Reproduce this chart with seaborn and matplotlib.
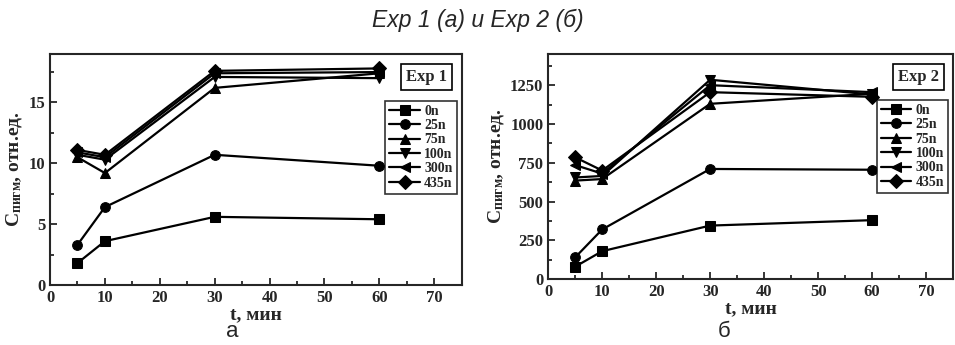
import numpy as np
import pandas as pd
import matplotlib
matplotlib.use("Agg")
import matplotlib.pyplot as plt
from matplotlib.ticker import MultipleLocator
import seaborn as sns

sns.set_style("ticks")
plt.rcParams['font.family'] = ['Liberation Serif', 'DejaVu Serif']
plt.rcParams['mathtext.fontset'] = 'custom'
plt.rcParams['mathtext.rm'] = 'Liberation Serif'
plt.rcParams['mathtext.bf'] = 'Liberation Serif:bold'

# time points, min
t = [5, 10, 30, 60]
series = ["0n", "25n", "75n", "100n", "300n", "435n"]
markers = ["s", "o", "^", "v", "<", "D"]

# Exp 1
exp1_0n = [1.8, 3.6, 5.6, 5.4]
exp1_25n = [3.3, 6.4, 10.7, 9.8]
exp1_75n = [10.5, 9.2, 16.2, 17.4]
exp1_100n = [10.7, 10.3, 17.1, 17.0]
exp1_300n = [10.9, 10.5, 17.4, 17.5]
exp1_435n = [11.1, 10.7, 17.6, 17.8]

# Exp 2
exp2_0n = [80, 180, 345, 380]
exp2_25n = [140, 320, 710, 705]
exp2_75n = [635, 645, 1130, 1195]
exp2_100n = [655, 665, 1285, 1190]
exp2_300n = [735, 680, 1250, 1205]
exp2_435n = [785, 700, 1205, 1175]

exp1 = [exp1_0n, exp1_25n, exp1_75n, exp1_100n, exp1_300n, exp1_435n]
exp2 = [exp2_0n, exp2_25n, exp2_75n, exp2_100n, exp2_300n, exp2_435n]


def make_df(vals):
    rows = []
    for name, v in zip(series, vals):
        for ti, yi in zip(t, v):
            rows.append({"t": ti, "c": yi, "s": name})
    return pd.DataFrame(rows)


fig = plt.figure(figsize=(9.55, 3.45), dpi=100)
ax1 = fig.add_axes([0.0524, 0.174, 0.431, 0.670])
ax2 = fig.add_axes([0.574, 0.191, 0.424, 0.652])

bold = {"fontweight": "bold", "fontsize": 14}

for ax, vals, ylim, ymaj, tag in [(ax1, exp1, (0, 19), 5, "Exp 1"),
                                    (ax2, exp2, (0, 1450), 250, "Exp 2")]:
    df = make_df(vals)
    sns.lineplot(data=df, x="t", y="c", hue="s", style="s",
                 palette=["black"] * 6, markers=markers, dashes=False,
                 markersize=7, linewidth=1.6, markeredgecolor="black",
                 ax=ax)
    ax.set_xlim(0, 75)
    ax.set_ylim(*ylim)
    ax.xaxis.set_major_locator(MultipleLocator(10))
    ax.xaxis.set_minor_locator(MultipleLocator(5))
    ax.yaxis.set_major_locator(MultipleLocator(ymaj))
    ax.yaxis.set_minor_locator(MultipleLocator(ymaj / 2))
    ax.tick_params(which="both", direction="in", width=1.3, labelsize=12)
    ax.tick_params(which="major", length=5)
    ax.tick_params(which="minor", length=3)
    for lab in ax.get_xticklabels() + ax.get_yticklabels():
        lab.set_fontweight("bold")
    for sp in ax.spines.values():
        sp.set_linewidth(1.5)
        sp.set_visible(True)
    ax.set_xlabel("t, мин", labelpad=0, **bold)
    ax.set_ylabel(r"$\mathbf{C_{пигм}}$, отн.ед.", labelpad=3, **bold)
    ax.text(0.965, 0.935, tag, transform=ax.transAxes, ha="right", va="top",
            fontsize=12, fontweight="bold",
            bbox=dict(boxstyle="square,pad=0.3", fc="white", ec="black", lw=1.2))
    leg = ax.legend(loc="upper right", bbox_to_anchor=(0.995, 0.81),
                    frameon=True, fancybox=False, edgecolor="black",
                    prop={"weight": "bold", "size": 10},
                    handlelength=2.2, handletextpad=0.3, labelspacing=0.1,
                    borderpad=0.3, borderaxespad=0.2)
    leg.get_frame().set_linewidth(1.2)

fig.text(0.5, 0.94, "Exp 1 (a) и Exp 2 (б)", ha="center", va="center",
         fontsize=16.5, style="italic", family="Liberation Sans")
fig.text(0.243, 0.04, "а", ha="center", va="center", fontsize=16,
         family="Liberation Sans")
fig.text(0.758, 0.04, "б", ha="center", va="center", fontsize=16,
         family="Liberation Sans")

fig.savefig("out.png", dpi=100)
